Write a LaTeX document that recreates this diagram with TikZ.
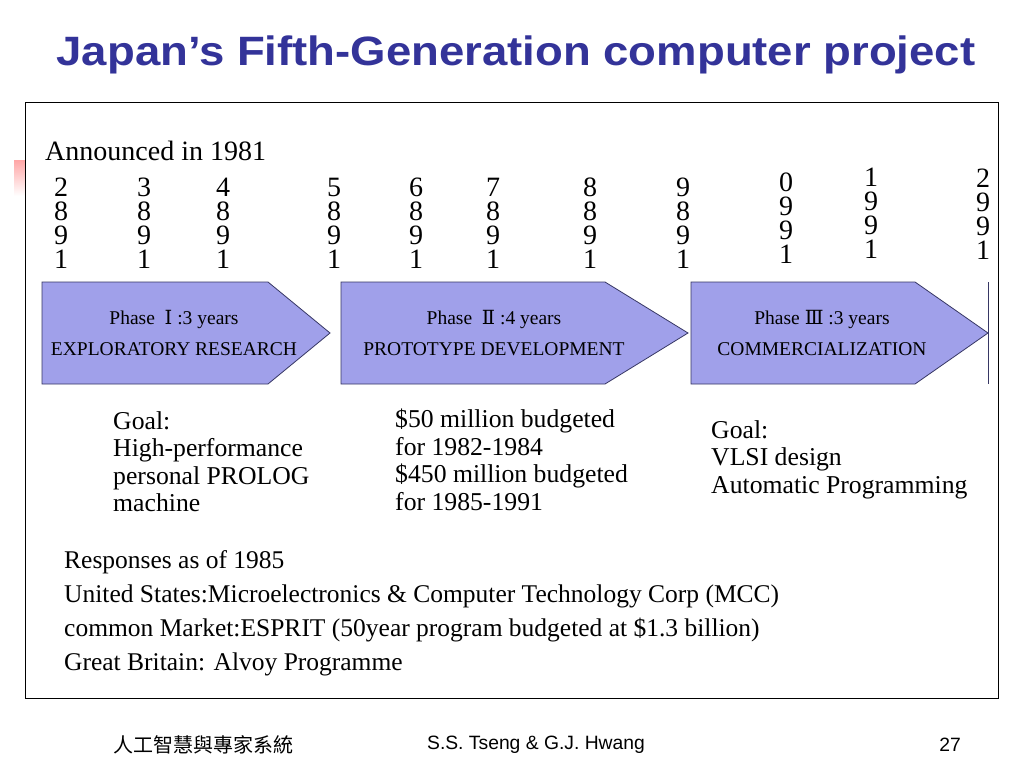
\documentclass[tikz,border=0pt]{standalone}
\usepackage{fontspec}
\setmainfont{Liberation Serif}
\newfontfamily\titlefont{Liberation Sans}
\newfontfamily\cjk{Noto Sans CJK TC}
\newfontfamily\numfont{DejaVu Serif}
\usepackage{xcolor}
\usepackage{tikz}

\definecolor{titleblue}{RGB}{51,51,153}
\definecolor{phasefill}{RGB}{160,160,234}
\definecolor{phaseline}{RGB}{55,55,100}

\begin{document}
\begin{tikzpicture}[x=1pt,y=-1pt,
    year/.style={anchor=north,align=center,inner sep=0pt,font=\fontsize{28}{24}\selectfont},
    phase/.style={fill=phasefill,draw=phaseline,line width=0.8pt},
    phasetext/.style={inner sep=0pt,font=\fontsize{19.5}{20}\selectfont},
    body/.style={anchor=north west,align=left,inner sep=0pt,font=\fontsize{25.7}{27.5}\selectfont},
    resp/.style={anchor=north west,align=left,inner sep=0pt,font=\fontsize{25.5}{34}\selectfont},
    foot/.style={inner sep=0pt,font=\titlefont\fontsize{19.3}{20}\selectfont}]
    \useasboundingbox (0,0) rectangle (1024,768);
    \fill[white] (0,0) rectangle (1024,768);
    \shade[top color=red!35,bottom color=white] (14,160) rectangle (25,196);
    \node[anchor=base,text=titleblue,inner sep=0pt,xscale=1.11,transform shape,
      font=\titlefont\bfseries\fontsize{41}{48}\selectfont]
      (title) at (516,65) {Japan’s Fifth-Generation computer project};
    \draw[line width=0.8pt] (25,102) rectangle (998,698);
    \node[anchor=north west,inner sep=0pt,font=\fontsize{28}{30}\selectfont] (announced) at (45,141) {Announced in 1981};
    \node[year] (y1982) at (61,177.5) {2\\8\\9\\1};
    \node[year] (y1983) at (144,177.5) {3\\8\\9\\1};
    \node[year] (y1984) at (223,177.5) {4\\8\\9\\1};
    \node[year] (y1985) at (334,177.5) {5\\8\\9\\1};
    \node[year] (y1986) at (416,177.5) {6\\8\\9\\1};
    \node[year] (y1987) at (493,177.5) {7\\8\\9\\1};
    \node[year] (y1988) at (590,177.5) {8\\8\\9\\1};
    \node[year] (y1989) at (683,177.5) {9\\8\\9\\1};
    \node[year] (y1990) at (786,172.5) {0\\9\\9\\1};
    \node[year] (y1991) at (871,167.5) {1\\9\\9\\1};
    \node[year] (y1992) at (983,168.5) {2\\9\\9\\1};
    \draw[phase] (42,282) -- (268,282) -- (330,333) -- (268,384) -- (42,384) -- cycle;
    \draw[phase] (341,282) -- (605,282) -- (688,333) -- (605,384) -- (341,384) -- cycle;
    \draw[phase] (691,282) -- (915,282) -- (988,333) -- (915,384) -- (691,384) -- cycle;
    \draw[phaseline,line width=0.8pt] (988,282) -- (988,384);
    \node[phasetext] (p1) at (174,319) {Phase\ \ {\numfont Ⅰ} :3 years};
    \node[phasetext] (p1b) at (174,349) {EXPLORATORY RESEARCH};
    \node[phasetext] (p2) at (494,319) {Phase\ \ {\numfont Ⅱ} :4 years};
    \node[phasetext] (p2b) at (494,349) {PROTOTYPE DEVELOPMENT};
    \node[phasetext] (p3) at (822,319) {Phase {\numfont Ⅲ} :3 years};
    \node[phasetext] (p3b) at (822,349) {COMMERCIALIZATION};
    \node[body] (goal1) at (113,411) {Goal:\\High-performance\\personal PROLOG\\machine};
    \node[body] (budget) at (395,409) {\$50 million budgeted\\for 1982-1984\\\$450 million budgeted\\for 1985-1991};
    \node[body] (goal3) at (711,420) {Goal:\\VLSI design\\Automatic Programming};
    \node[resp] (responses) at (64,550) {Responses as of 1985\\
      United States:Microelectronics \& Computer Technology Corp (MCC)\\
      common Market:ESPRIT (50year program budgeted at \$1.3 billion)\\
      Great Britain: Alvoy Programme};
    \node[foot,anchor=west,font=\cjk\fontsize{20}{20}\selectfont] (course) at (113,745) {人工智慧與專家系統};
    \node[foot] (authors) at (536,745) {S.S. Tseng \& G.J. Hwang};
    \node[foot,anchor=east] (page) at (961,745) {27};
\end{tikzpicture}
\end{document}
